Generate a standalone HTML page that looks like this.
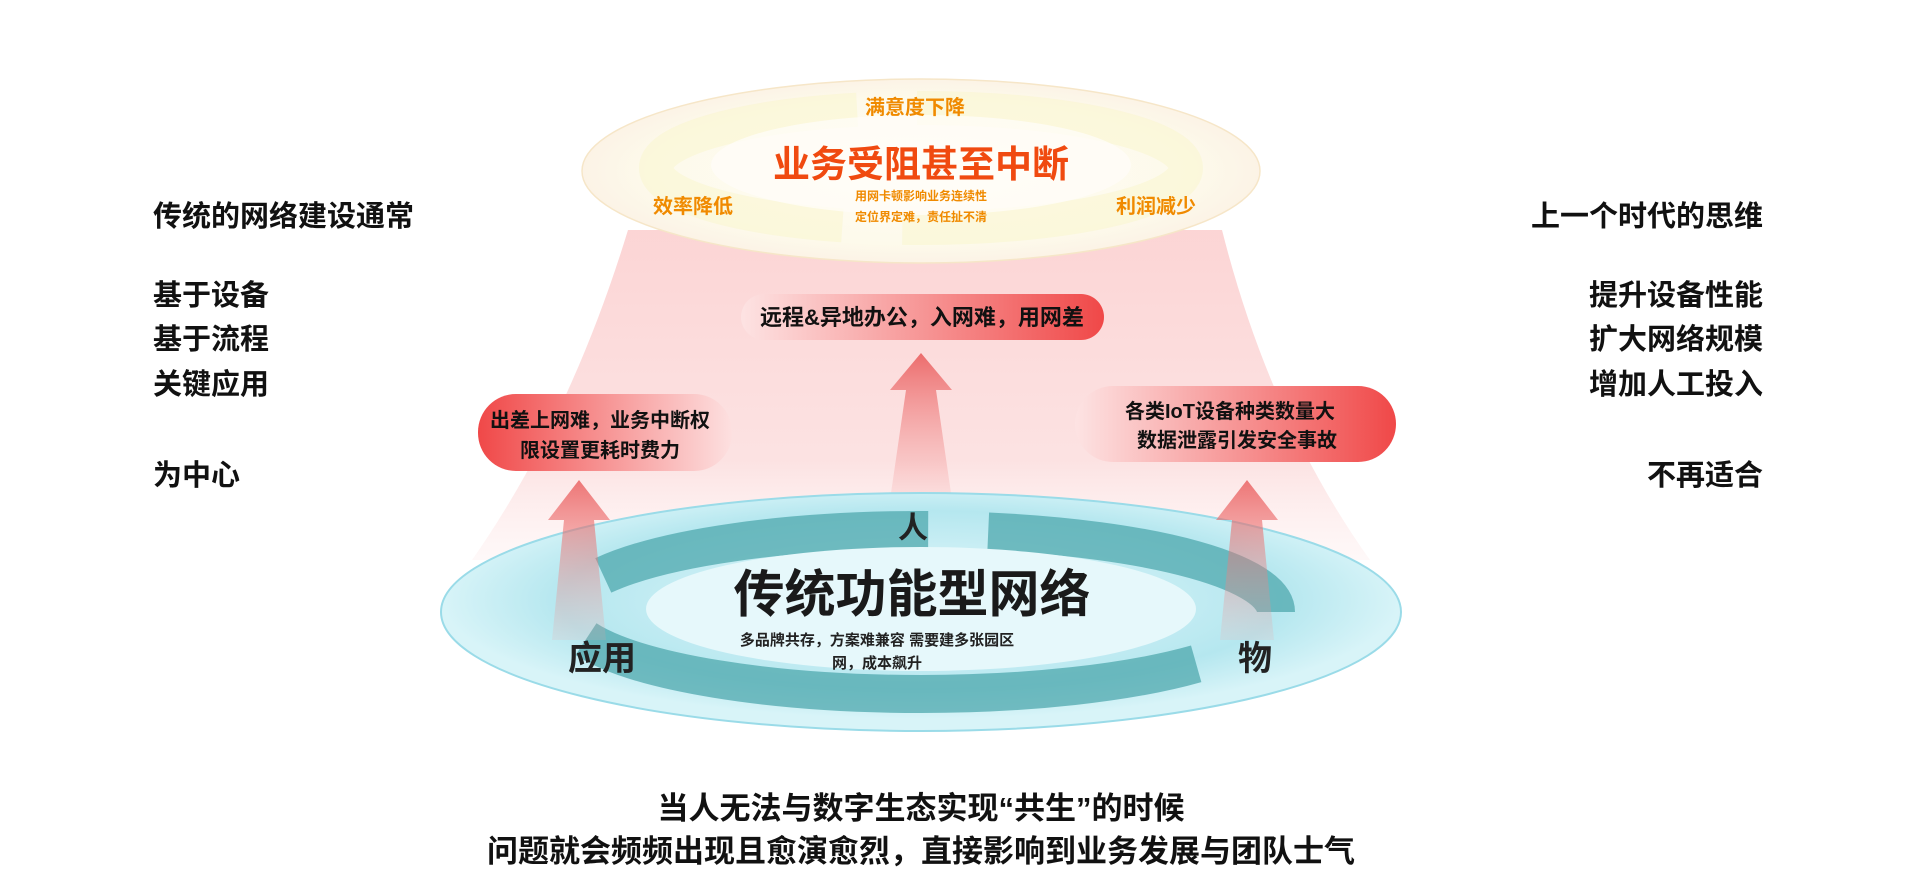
<!DOCTYPE html>
<html><head><meta charset="utf-8"><style>
html,body{margin:0;padding:0;background:#fff;}
svg{display:block;}
text{font-family:"Liberation Sans","Noto Sans CJK SC",sans-serif;font-weight:bold;}
</style></head><body>
<svg width="1920" height="884" viewBox="0 0 1920 884" xmlns="http://www.w3.org/2000/svg">
<defs>
<linearGradient id="beam" x1="0" y1="0" x2="0" y2="1">
<stop offset="0" stop-color="#fbd0d0" stop-opacity="0.9"/>
<stop offset="0.7" stop-color="#fbd6d6" stop-opacity="0.7"/>
<stop offset="1" stop-color="#fde8e8" stop-opacity="0.3"/>
</linearGradient>
<radialGradient id="topE" cx="0.5" cy="0.5" r="0.5">
<stop offset="0" stop-color="#fffdf6"/>
<stop offset="0.8" stop-color="#fdfaeb"/>
<stop offset="1" stop-color="#fcf3e6"/>
</radialGradient>
<radialGradient id="botE" cx="0.5" cy="0.45" r="0.5">
<stop offset="0" stop-color="#e8f9fc"/>
<stop offset="0.75" stop-color="#b5e7ef"/>
<stop offset="1" stop-color="#d8f4f8"/>
</radialGradient>
<linearGradient id="pillC" x1="0" x2="1"><stop offset="0" stop-color="#fde3e3"/><stop offset="1" stop-color="#f04848"/></linearGradient>
<linearGradient id="pillL" x1="0" x2="1"><stop offset="0" stop-color="#f04848"/><stop offset="1" stop-color="#fde0e0"/></linearGradient>
<linearGradient id="pillR" x1="0" x2="1"><stop offset="0" stop-color="#fde3e3"/><stop offset="1" stop-color="#f04848"/></linearGradient>
<linearGradient id="arr" x1="0" y1="0" x2="0" y2="1"><stop offset="0" stop-color="#e85050"/><stop offset="1" stop-color="#f4a0a0" stop-opacity="0.2"/></linearGradient>
</defs>

<!-- beam -->
<path d="M628 230 L1222 230 Q1270 420 1370 560 L472 560 Q570 420 628 230 Z" fill="url(#beam)"/>

<!-- top ellipse -->
<ellipse cx="921" cy="171" rx="339" ry="92" fill="url(#topE)" stroke="#f6e6c8" stroke-width="1.5"/>
<ellipse cx="921" cy="168" rx="265" ry="60" fill="none" stroke="#faf5cc" stroke-width="34" stroke-dasharray="300 60 420 60 300 200" opacity="0.5"/>
<ellipse cx="921" cy="165" rx="210" ry="50" fill="#fffdf8" opacity="0.8"/>
<text x="915" y="114" font-size="20" fill="#f08a00" text-anchor="middle">满意度下降</text>
<text x="921" y="177" font-size="37" fill="#f04a10" text-anchor="middle">业务受阻甚至中断</text>
<text x="921" y="200" font-size="12" fill="#f08a00" text-anchor="middle">用网卡顿影响业务连续性</text>
<text x="921" y="221" font-size="12" fill="#f08a00" text-anchor="middle">定位界定难，责任扯不清</text>
<text x="693" y="213" font-size="20" fill="#f08a00" text-anchor="middle">效率降低</text>
<text x="1156" y="213" font-size="20" fill="#f08a00" text-anchor="middle">利润减少</text>

<!-- center pill -->
<rect x="741" y="294" width="363" height="46" rx="23" fill="url(#pillC)"/>
<text x="922" y="325" font-size="22" fill="#111" text-anchor="middle">远程&amp;异地办公，入网难，用网差</text>

<!-- center arrow -->
<path d="M921 353 L952 390 L936 390 L952 500 L890 500 L906 390 L890 390 Z" fill="url(#arr)" opacity="0.8"/>

<!-- left pill -->
<rect x="478" y="394" width="254" height="77" rx="38" fill="url(#pillL)"/>
<text x="600" y="427" font-size="20" fill="#111" text-anchor="middle">出差上网难，业务中断权</text>
<text x="600" y="457" font-size="20" fill="#111" text-anchor="middle">限设置更耗时费力</text>

<!-- right pill -->
<rect x="1075" y="386" width="321" height="76" rx="38" fill="url(#pillR)"/>
<text x="1230" y="418" font-size="20" fill="#111" text-anchor="middle">各类IoT设备种类数量大</text>
<text x="1237" y="447" font-size="20" fill="#111" text-anchor="middle">数据泄露引发安全事故</text>

<!-- bottom ellipse -->
<ellipse cx="921" cy="612" rx="480" ry="119" fill="url(#botE)" stroke="#9adbe8" stroke-width="2"/>
<ellipse cx="921" cy="612" rx="355" ry="82" fill="none" stroke="#4fa8ad" stroke-width="38" stroke-dasharray="620 90 330 60 500 200" stroke-dashoffset="-100" opacity="0.75"/>
<ellipse cx="921" cy="609" rx="275" ry="62" fill="#e6f8fb"/>

<!-- side arrows -->
<path d="M579 480 L610 520 L594 520 L606 640 L552 640 L564 520 L548 520 Z" fill="url(#arr)" opacity="0.75"/>
<path d="M1247 480 L1278 520 L1262 520 L1274 640 L1220 640 L1232 520 L1216 520 Z" fill="url(#arr)" opacity="0.75"/>

<text x="913" y="538" font-size="30" fill="#222" text-anchor="middle">人</text>
<text x="912" y="612" font-size="51" fill="#1a1a1a" text-anchor="middle">传统功能型网络</text>
<text x="877" y="645" font-size="15" fill="#222" text-anchor="middle">多品牌共存，方案难兼容 需要建多张园区</text>
<text x="877" y="668" font-size="15" fill="#222" text-anchor="middle">网，成本飙升</text>
<text x="602" y="670" font-size="34" fill="#222" text-anchor="middle">应用</text>
<text x="1255" y="670" font-size="34" fill="#222" text-anchor="middle">物</text>

<!-- side texts -->
<g font-size="29" fill="#111">
<text x="153" y="226">传统的网络建设通常</text>
<text x="153" y="305">基于设备</text>
<text x="153" y="349">基于流程</text>
<text x="153" y="394">关键应用</text>
<text x="153" y="485">为中心</text>
</g>
<g font-size="29" fill="#111" text-anchor="end">
<text x="1763" y="226">上一个时代的思维</text>
<text x="1763" y="305">提升设备性能</text>
<text x="1763" y="349">扩大网络规模</text>
<text x="1763" y="394">增加人工投入</text>
<text x="1763" y="485">不再适合</text>
</g>

<text x="921" y="819" font-size="31" fill="#111" text-anchor="middle">当人无法与数字生态实现“共生”的时候</text>
<text x="921" y="862" font-size="31" fill="#111" text-anchor="middle">问题就会频频出现且愈演愈烈，直接影响到业务发展与团队士气</text>
</svg>
</body></html>
